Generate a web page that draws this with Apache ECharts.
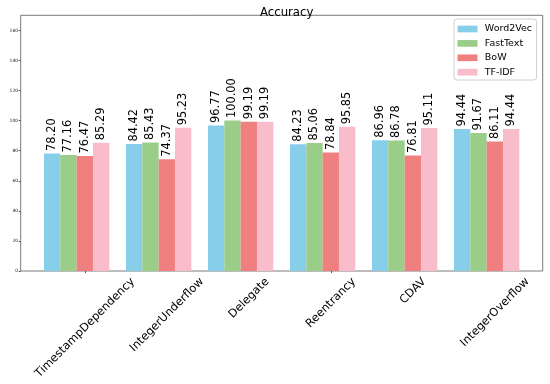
<!DOCTYPE html>
<html>
<head>
<meta charset="utf-8">
<script src="https://cdn.jsdelivr.net/npm/echarts@6/dist/echarts.min.js"></script>
<style>html,body{margin:0;padding:0;background:#fff}#c{width:550px;height:384px}</style>
</head>
<body>
<div id="c"></div>
<script>
const categories = ['TimestampDependency', 'IntegerUnderflow', 'Delegate', 'Reentrancy', 'CDAV', 'IntegerOverflow'];
const word2vec = [78.20, 84.42, 96.77, 84.23, 86.96, 94.44];
const fasttext = [77.16, 85.43, 100.00, 85.06, 86.78, 91.67];
const bow = [76.47, 74.37, 99.19, 78.84, 76.81, 86.11];
const tfidf = [85.29, 95.23, 99.19, 95.85, 95.11, 94.44];
const yTicks = [0, 20, 40, 60, 80, 100, 120, 140, 160];
const seriesNames = ['Word2Vec', 'FastText', 'BoW', 'TF-IDF'];
const colors = ['#87ceeb', '#9acd87', '#f08080', '#f9bccb'];

const FONT = '"DejaVu Sans", sans-serif';
const fsX = 11.4;
const mctx = document.createElement('canvas').getContext('2d');
mctx.font = fsX + 'px "DejaVu Sans"';
// half-diagonal drop so the rotated label box is centred under its tick (matplotlib style)
const labelDrop = categories.map(c => 0.3535 * (mctx.measureText(c).width + 0.97 * fsX));

const gTop = 15.3, gBottom = 113;
const valueLabel = {
  show: true, position: 'top', distance: 2.5, rotate: 90,
  align: 'left', verticalAlign: 'middle',
  fontSize: 11.4, color: '#000', fontFamily: FONT,
  formatter: p => p.value.toFixed(2)
};
const values = [word2vec, fasttext, bow, tfidf];

const chart = echarts.init(document.getElementById('c'), null, { renderer: 'canvas' });
const series = seriesNames.map((name, i) => ({
  name: name, type: 'bar', xAxisIndex: 1, yAxisIndex: 1,
  data: values[i], barWidth: 16.33, barGap: '0%',
  itemStyle: { color: colors[i] },
  label: valueLabel
}));
series.push({
  type: 'custom', xAxisIndex: 2, yAxisIndex: 2, clip: false, silent: true,
  data: categories.map(c => [c, 0]),
  renderItem: function (params, api) {
    const idx = params.dataIndex;
    const pt = api.coord([api.value(0), 0]);
    return {
      type: 'text',
      x: pt[0], y: pt[1] + 5 + labelDrop[idx],
      rotation: Math.PI / 4,
      style: {
        text: categories[idx], fill: '#000',
        font: fsX + 'px ' + FONT,
        align: 'center', verticalAlign: 'middle'
      }
    };
  }
});

chart.setOption({
  animation: false,
  backgroundColor: '#fff',
  title: {
    text: 'Accuracy', left: 281.7, top: 1.5, textAlign: 'center',
    textStyle: { fontSize: 11.7, fontWeight: 'normal', color: '#000', fontFamily: FONT }
  },
  legend: {
    orient: 'vertical', left: 454, top: 19,
    itemWidth: 20, itemHeight: 6.7, itemGap: 3.4,
    padding: [4.5, 4.5, 2.3, 3.5],
    icon: 'rect',
    borderColor: '#d0d0d0', borderWidth: 1, borderRadius: 3, backgroundColor: '#fff',
    textStyle: { fontSize: 9.5, lineHeight: 11, color: '#000', fontFamily: FONT, padding: [0, 0, 0, 2.3] },
    data: seriesNames
  },
  grid: [
    { left: 20.7, right: 7.3, top: gTop, bottom: gBottom, show: true, borderColor: '#7a7a7a', borderWidth: 1, backgroundColor: 'transparent' },
    { left: 35.65, right: 22.35, top: gTop, bottom: gBottom },
    { left: 44, right: 14, top: gTop, bottom: gBottom }
  ],
  xAxis: [
    { gridIndex: 0, type: 'value', show: false, min: 0, max: 1 },
    { gridIndex: 1, type: 'category', data: categories, show: false },
    {
      gridIndex: 2, type: 'category', data: categories,
      axisLine: { show: false },
      axisTick: { show: true, alignWithLabel: true, length: 2, lineStyle: { color: '#555' } },
      axisLabel: { show: false }
    }
  ],
  yAxis: [
    { gridIndex: 0, type: 'value', show: false, min: 0, max: 1 },
    {
      gridIndex: 1, type: 'value', min: 0, max: 170, interval: 20, offset: 14.95,
      axisLine: { show: false },
      splitLine: { show: false },
      axisTick: { show: true, length: 2, lineStyle: { color: '#555' }, customValues: yTicks },
      axisLabel: { fontSize: 4.5, margin: 2.5, color: '#222', fontFamily: FONT, customValues: yTicks }
    },
    { gridIndex: 2, type: 'value', show: false, min: 0, max: 170 }
  ],
  series: series
});
</script>
</body>
</html>
